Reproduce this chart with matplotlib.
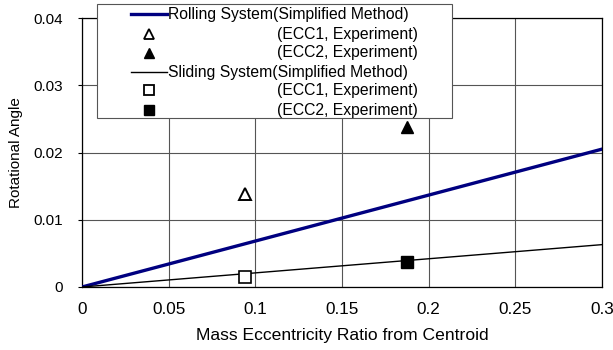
import matplotlib
matplotlib.use("Agg")
import matplotlib.pyplot as plt
from matplotlib.lines import Line2D

plt.rcParams['font.family'] = ['Liberation Sans', 'DejaVu Sans']

# simplified-method lines (eccentricity ratio -> rotational angle)
ecc_line = [0.0, 0.3]
rolling_line = [0.0, 0.0205]
sliding_line = [0.0, 0.0063]

# experiment points
ecc_exp = [0.094, 0.1875]
rolling_exp = [0.0138, 0.0238]
sliding_exp = [0.0015, 0.0037]

navy = '#000080'
W, H = 613, 350

fig = plt.figure(figsize=(6.13, 3.5), dpi=100)
ax = fig.add_axes([82 / W, 1 - 287 / H, 520 / W, 269 / H])

ax.plot(ecc_line, rolling_line, color=navy, lw=2.4, zorder=3)
ax.plot(ecc_line, sliding_line, color='black', lw=1.0, zorder=3)
ax.plot(ecc_exp[0], rolling_exp[0], '^', ms=8, mfc='white', mec='black', mew=1.4, zorder=4)
ax.plot(ecc_exp[1], rolling_exp[1], '^', ms=9, mfc='black', mec='black', zorder=4)
ax.plot(ecc_exp[0], sliding_exp[0], 's', ms=8, mfc='white', mec='black', mew=1.2, zorder=4)
ax.plot(ecc_exp[1], sliding_exp[1], 's', ms=9, mfc='black', mec='black', zorder=4)

ax.set_xlim(0, 0.3)
ax.set_ylim(0, 0.04)
ax.set_xticks([0, 0.05, 0.1, 0.15, 0.2, 0.25, 0.3])
ax.set_xticklabels(['0', '0.05', '0.1', '0.15', '0.2', '0.25', '0.3'])
ax.set_yticks([0, 0.01, 0.02, 0.03, 0.04])
ax.set_yticklabels(['0', '0.01', '0.02', '0.03', '0.04'])
ax.grid(True, color='#555555', lw=0.8)
ax.set_axisbelow(True)
ax.tick_params(axis='x', length=0, pad=11, labelsize=12.3)
ax.tick_params(axis='y', length=3, pad=11, labelsize=11)
for s in ax.spines.values():
    s.set_color('black')
    s.set_linewidth(0.9)

ax.set_xlabel('Mass Eccentricity Ratio from Centroid', fontsize=12.6, labelpad=8)
ax.set_ylabel('Rotational Angle', fontsize=11, labelpad=7)

# legend box; experiment labels are right-aligned under the line labels
box_l, box_r, box_t, box_b = 97, 452, 4, 118
fig.patches.append(plt.Rectangle((box_l / W, 1 - box_b / H), (box_r - box_l) / W,
                                 (box_b - box_t) / H, transform=fig.transFigure,
                                 facecolor='white', edgecolor='#555555', lw=0.8, zorder=5))
rows = [
    ('line', dict(color=navy, lw=2.4), 'Rolling System(Simplified Method)', 'left'),
    ('mark', dict(marker='^', ms=7, mfc='white', mec='black', mew=1.3), '(ECC1, Experiment)', 'right'),
    ('mark', dict(marker='^', ms=7, mfc='black', mec='black'), '(ECC2, Experiment)', 'right'),
    ('line', dict(color='black', lw=1.0), 'Sliding System(Simplified Method)', 'left'),
    ('mark', dict(marker='s', ms=6.5, mfc='white', mec='black', mew=1.3), '(ECC1, Experiment)', 'right'),
    ('mark', dict(marker='s', ms=6.5, mfc='black', mec='black'), '(ECC2, Experiment)', 'right'),
]
row_y = [14, 34, 53, 72, 90, 110]
for (kind, style, label, ha), yp in zip(rows, row_y):
    fy = 1 - yp / H
    if kind == 'line':
        fig.add_artist(Line2D([131 / W, 167 / W], [fy, fy], transform=fig.transFigure,
                              zorder=6, **style))
    else:
        fig.add_artist(Line2D([149 / W], [fy], transform=fig.transFigure, ls='none',
                              zorder=6, **style))
    tx = 168 / W if ha == 'left' else 418 / W
    fig.text(tx, fy, label, ha=ha, va='center', fontsize=11.3, zorder=7)

fig.savefig('out.png', dpi=100)
